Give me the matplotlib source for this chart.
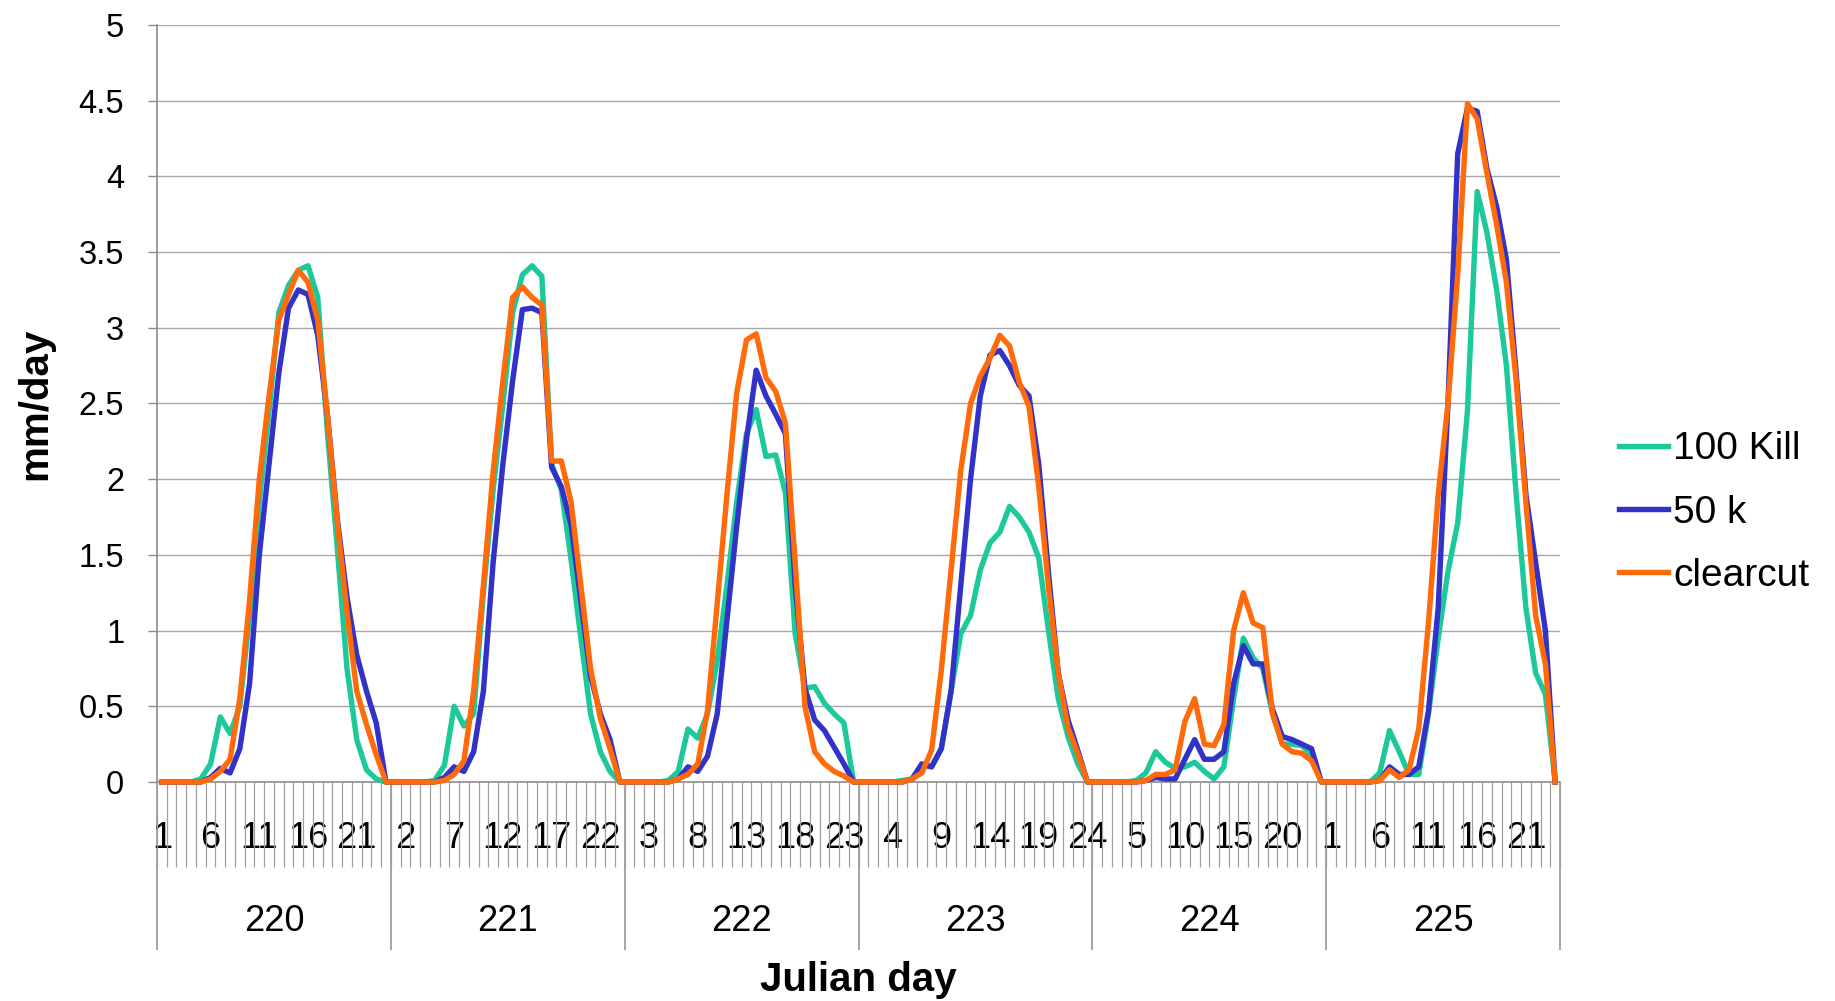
import numpy as np
import matplotlib
matplotlib.use("Agg")
import matplotlib.pyplot as plt
from matplotlib import font_manager as fm
from matplotlib.lines import Line2D

# ---- data: hourly values (mm/day) for Julian days 220-225 ----
days = [220, 221, 222, 223, 224, 225]
hours_per_day = 24
hours_of_day = list(range(1, 25))

kill100 = [
    # 220
    0, 0, 0, 0, 0.02, 0.12, 0.43, 0.32, 0.50, 1.10, 1.85, 2.45,
    3.10, 3.28, 3.38, 3.41, 3.20, 2.30, 1.55, 0.75, 0.28, 0.08, 0.02, 0,
    # 221
    0, 0, 0, 0, 0.01, 0.11, 0.50, 0.37, 0.45, 1.25, 1.93, 2.49,
    3.10, 3.35, 3.41, 3.34, 2.10, 1.93, 1.47, 0.95, 0.45, 0.20, 0.07, 0,
    # 222
    0, 0, 0, 0, 0.01, 0.07, 0.35, 0.29, 0.45, 0.80, 1.30, 1.85,
    2.30, 2.46, 2.15, 2.16, 1.91, 0.98, 0.62, 0.63, 0.52, 0.45, 0.39, 0,
    # 223
    0, 0, 0, 0, 0.01, 0.02, 0.11, 0.10, 0.22, 0.60, 0.98, 1.10,
    1.40, 1.58, 1.65, 1.82, 1.75, 1.65, 1.48, 1.00, 0.55, 0.30, 0.12, 0,
    # 224
    0, 0, 0, 0, 0.01, 0.06, 0.20, 0.13, 0.09, 0.10, 0.13, 0.07,
    0.02, 0.10, 0.55, 0.95, 0.82, 0.75, 0.45, 0.25, 0.25, 0.24, 0.18, 0,
    # 225
    0, 0, 0, 0, 0, 0.06, 0.34, 0.20, 0.05, 0.05, 0.45, 0.95,
    1.39, 1.71, 2.45, 3.90, 3.63, 3.25, 2.75, 1.90, 1.15, 0.72, 0.58, 0,
]

k50 = [
    # 220
    0, 0, 0, 0, 0, 0.03, 0.09, 0.06, 0.22, 0.65, 1.50, 2.10,
    2.70, 3.13, 3.25, 3.22, 2.95, 2.42, 1.74, 1.22, 0.84, 0.60, 0.39, 0,
    # 221
    0, 0, 0, 0, 0, 0.03, 0.10, 0.07, 0.20, 0.60, 1.45, 2.10,
    2.65, 3.12, 3.13, 3.10, 2.08, 1.95, 1.70, 1.20, 0.70, 0.45, 0.28, 0,
    # 222
    0, 0, 0, 0, 0, 0.02, 0.10, 0.07, 0.17, 0.45, 1.07, 1.69,
    2.26, 2.72, 2.55, 2.43, 2.30, 1.30, 0.62, 0.41, 0.34, 0.23, 0.12, 0,
    # 223
    0, 0, 0, 0, 0, 0.02, 0.12, 0.10, 0.22, 0.60, 1.30, 2.00,
    2.55, 2.82, 2.85, 2.75, 2.62, 2.55, 2.10, 1.38, 0.72, 0.41, 0.21, 0,
    # 224
    0, 0, 0, 0, 0, 0.01, 0.03, 0.02, 0.02, 0.15, 0.28, 0.15,
    0.15, 0.20, 0.65, 0.90, 0.78, 0.78, 0.48, 0.30, 0.28, 0.25, 0.22, 0,
    # 225
    0, 0, 0, 0, 0, 0.01, 0.10, 0.05, 0.05, 0.10, 0.47, 1.15,
    2.50, 4.15, 4.45, 4.43, 4.05, 3.80, 3.45, 2.70, 1.90, 1.45, 1.00, 0,
]

clearcut = [
    # 220
    0, 0, 0, 0, 0, 0.02, 0.07, 0.15, 0.55, 1.20, 2.00, 2.55,
    3.05, 3.22, 3.38, 3.30, 3.05, 2.42, 1.72, 1.12, 0.60, 0.38, 0.18, 0,
    # 221
    0, 0, 0, 0, 0, 0.01, 0.05, 0.14, 0.60, 1.30, 2.05, 2.65,
    3.20, 3.27, 3.20, 3.15, 2.12, 2.12, 1.85, 1.30, 0.75, 0.42, 0.22, 0,
    # 222
    0, 0, 0, 0, 0, 0.02, 0.05, 0.12, 0.47, 1.18, 1.90, 2.57,
    2.92, 2.96, 2.67, 2.58, 2.37, 1.45, 0.50, 0.20, 0.12, 0.07, 0.04, 0,
    # 223
    0, 0, 0, 0, 0, 0.02, 0.06, 0.21, 0.74, 1.40, 2.06, 2.50,
    2.68, 2.80, 2.95, 2.88, 2.64, 2.48, 1.95, 1.29, 0.72, 0.36, 0.19, 0,
    # 224
    0, 0, 0, 0, 0, 0.01, 0.05, 0.05, 0.08, 0.40, 0.55, 0.25,
    0.24, 0.38, 1.00, 1.25, 1.05, 1.02, 0.45, 0.25, 0.20, 0.19, 0.14, 0,
    # 225
    0, 0, 0, 0, 0, 0.01, 0.08, 0.03, 0.08, 0.35, 1.05, 1.90,
    2.50, 3.35, 4.48, 4.38, 4.02, 3.68, 3.30, 2.65, 1.85, 1.10, 0.78, 0,
]

series_names = ["100 Kill", "50 k", "clearcut"]
series_colors = ["#1DC99A", "#3232C8", "#FF6A0A"]
ytick_values = [0, 0.5, 1, 1.5, 2, 2.5, 3, 3.5, 4, 4.5, 5]
ytick_labels = ["0", "0.5", "1", "1.5", "2", "2.5", "3", "3.5", "4", "4.5", "5"]
label_every = 5


def pick_font(candidates):
    for name in candidates:
        try:
            fm.findfont(fm.FontProperties(family=name), fallback_to_default=False)
            return name
        except Exception:
            continue
    return "DejaVu Sans"


base_font = pick_font(["Liberation Sans", "Arial", "DejaVu Sans"])
narrow_font = pick_font(["Liberation Sans Narrow", "Arial Narrow", base_font])
plt.rcParams["font.family"] = [base_font, "DejaVu Sans"]

grid_col = "#a8a8a8"
axis_col = "#8c8c8c"
line_w = 3.9

W, H = 1835, 1001
fig = plt.figure(figsize=(W / 100, H / 100), dpi=100)
L, R, T, B = 157, 1560, 25, 782
ax = fig.add_axes([L / W, 1 - B / H, (R - L) / W, (B - T) / H])

n = len(days) * hours_per_day
x = np.arange(n)
for vals, name, col in zip([kill100, k50, clearcut], series_names, series_colors):
    ax.plot(x, vals, color=col, lw=line_w, label=name, solid_joinstyle="round",
            clip_on=False, zorder=3)

ax.set_xlim(-0.5, n - 0.5)
ax.set_ylim(0, 5)

# y axis
ax.set_yticks(ytick_values)
ax.set_yticklabels(ytick_labels)
ax.tick_params(axis="y", which="major", length=6.5, width=1, color=axis_col,
               pad=17, labelsize=23.5)
ax.yaxis.grid(True, color=grid_col, lw=1.0)
ax.set_axisbelow(True)

for s in ("top", "right"):
    ax.spines[s].set_visible(False)
for s in ("left", "bottom"):
    ax.spines[s].set_color(axis_col)
    ax.spines[s].set_linewidth(1.2)

# hour-of-day category axis
hour_labels_all = hours_of_day * len(days)
major_pos = list(range(0, n, label_every))
ax.set_xticks(major_pos)
ax.set_xticklabels([str(hour_labels_all[i]) for i in major_pos],
                   fontfamily=[narrow_font, base_font])
ax.set_xticks(np.arange(-0.5, n, 1.0), minor=True)
ax.tick_params(axis="x", which="major", length=0, pad=28, labelsize=26)
ax.tick_params(axis="x", which="minor", length=61, width=0.9, color="#a0a0a0")

# day group axis
sec = ax.secondary_xaxis("bottom")
sec.spines["bottom"].set_visible(False)
day_edges = np.arange(-0.5, n + 0.5, hours_per_day)
day_centers = np.arange(len(days)) * hours_per_day + (hours_per_day - 1) / 2
sec.set_xticks(day_edges)
sec.set_xticks(day_centers, labels=[str(d) for d in days], minor=True)
sec.tick_params(axis="x", which="major", length=121, width=1.1, color=axis_col,
                labelbottom=False)
sec.tick_params(axis="x", which="minor", length=0, pad=87.5, labelsize=26)
for t in sec.get_xticklabels(minor=True):
    t.set_fontfamily([narrow_font, base_font])

ax.set_xlabel("Julian day", fontsize=29, fontweight="bold")
ax.xaxis.set_label_coords(0.5, -0.236)
ax.set_ylabel("mm/day", fontsize=29, fontweight="bold")
ax.yaxis.set_label_coords(-0.073, 0.5)

handles = [Line2D([], [], color=c, lw=line_w) for c in series_colors]
ax.legend(handles, series_names, loc="center left", bbox_to_anchor=(1.042, 0.356),
          frameon=False, fontsize=28, handlelength=1.25, handletextpad=0.15,
          labelspacing=0.70, borderpad=0, borderaxespad=0)

fig.savefig("out.png", dpi=100)
